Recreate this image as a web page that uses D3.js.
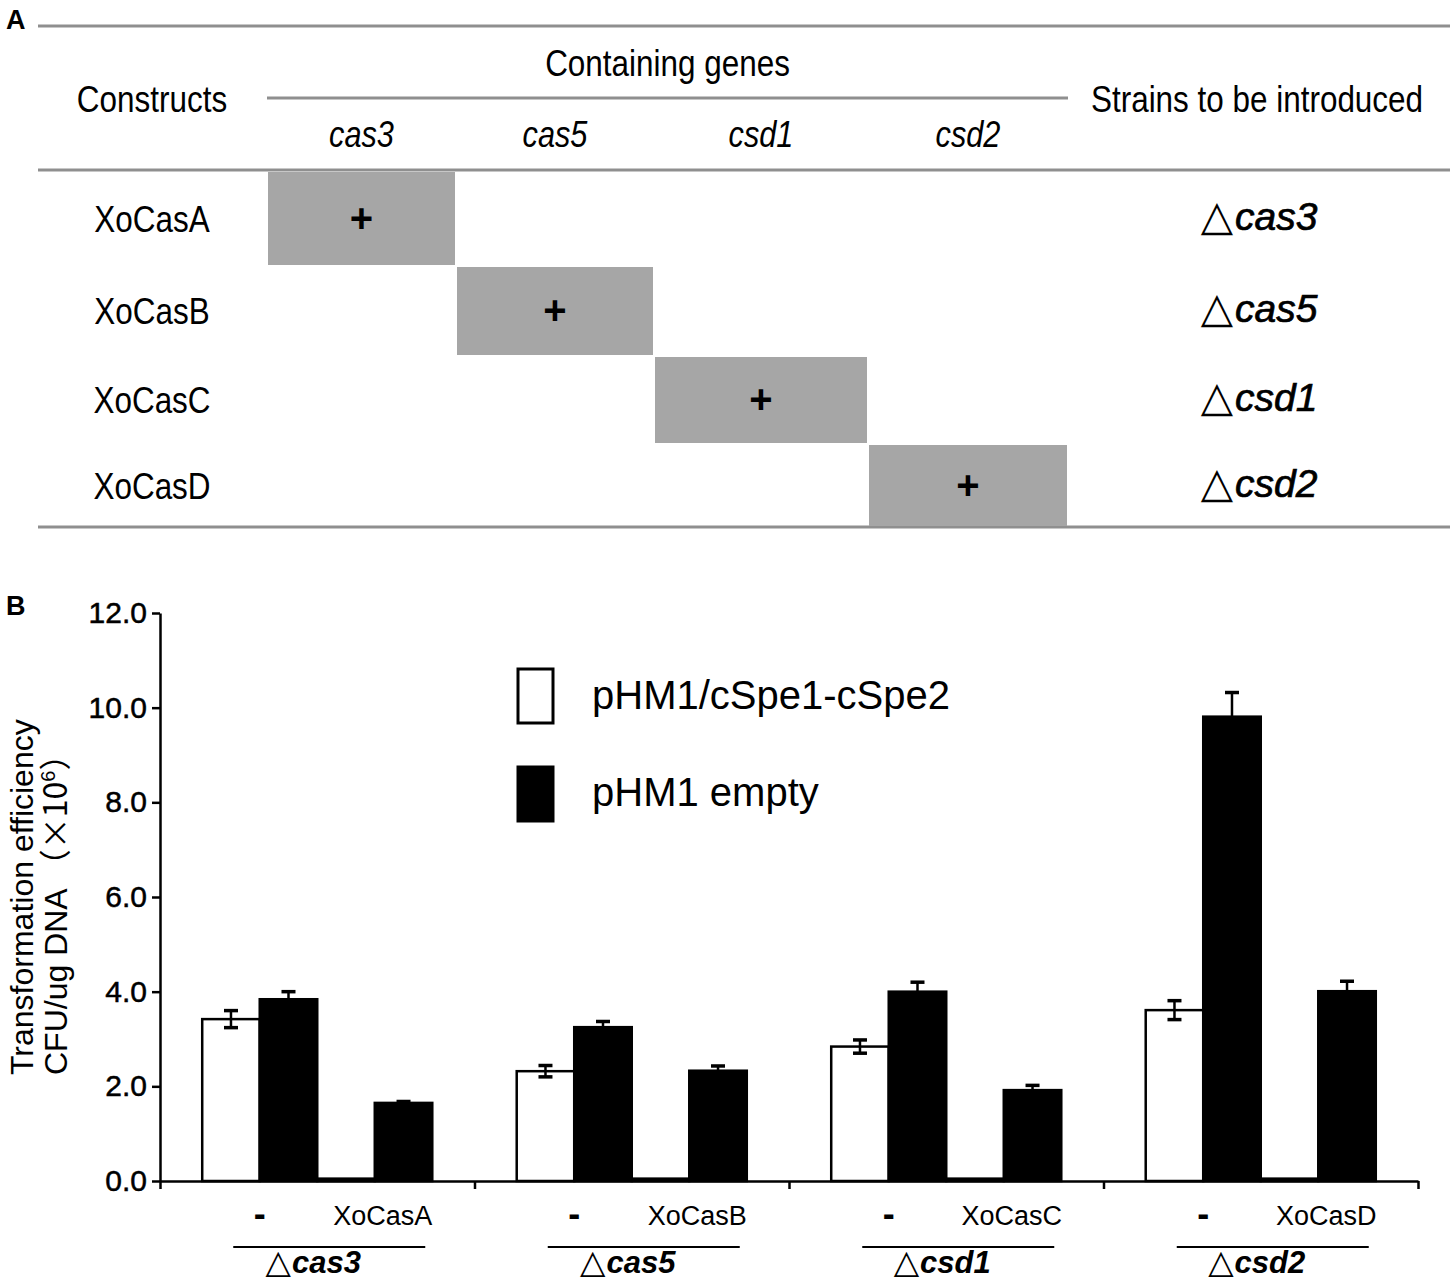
<!DOCTYPE html>
<html>
<head>
<meta charset="utf-8">
<script src="https://cdn.jsdelivr.net/npm/d3@7"></script>
<style>
  body { margin: 0; background: #fff; }
  text { font-family: "Liberation Sans", Arial, sans-serif; fill: #000; }
</style>
</head>
<body>
<div id="chart"></div>
<script>
// ---- panel A: constructs table ----
const constructs = ["XoCasA", "XoCasB", "XoCasC", "XoCasD"];
const genes = ["cas3", "cas5", "csd1", "csd2"];
const hostStrains = ["cas3", "cas5", "csd1", "csd2"];
const containsGene = [
    [1, 0, 0, 0],
    [0, 1, 0, 0],
    [0, 0, 1, 0],
    [0, 0, 0, 1]
];

// ---- panel B: transformation efficiency (x10^6 CFU/ug DNA) ----
const seriesNames = ["pHM1/cSpe1-cSpe2", "pHM1 empty"];
const conditions = ["-", "construct"];
const strainLabels = ["cas3", "cas5", "csd1", "csd2"];
const constructLabels = ["XoCasA", "XoCasB", "XoCasC", "XoCasD"];
const spacerCtrl = [3.42, 2.32, 2.84, 3.61];
const spacerCtrlErr = [0.18, 0.12, 0.14, 0.2];
const spacerComp = [0.05, 0.05, 0.05, 0.05];
const spacerCompErr = [0, 0, 0, 0];
const emptyCtrl = [3.84, 3.25, 4.0, 9.81];
const emptyCtrlErr = [0.16, 0.12, 0.2, 0.51];
const emptyComp = [1.65, 2.33, 1.92, 4.01];
const emptyCompErr = [0.03, 0.1, 0.1, 0.21];
const yTicks = [0, 2, 4, 6, 8, 10, 12];

const W = 1450, H = 1282;
const svg = d3.select("#chart").append("svg")
    .attr("width", W)
    .attr("height", H);

// narrow (condensed) text like the original Arial Narrow look
function narrow(g, x, y, str, size, sx, italic) {
    return g.append("text")
        .attr("transform", `translate(${x},${y}) scale(${sx},1)`)
        .attr("text-anchor", "middle")
        .attr("font-size", size)
        .attr("font-style", italic ? "italic" : "normal")
        .text(str);
}

// =================== Panel A ===================
const A = svg.append("g");
A.append("text").attr("x", 6).attr("y", 29)
    .attr("font-size", 27).attr("font-weight", "bold").text("A");

const col = d3.scaleLinear().domain([0, 1, 2, 3, 4]).range([267, 456, 654, 868, 1068]);
const row = d3.scaleLinear().domain([0, 1, 2, 3, 4]).range([171, 266, 356, 444, 527]);
const lineColor = "#8f8f8f";

// horizontal rules
[26, 170, 527].forEach(yy => {
    A.append("line").attr("x1", 38).attr("x2", W).attr("y1", yy).attr("y2", yy)
        .attr("stroke", lineColor).attr("stroke-width", 3);
});
A.append("line").attr("x1", col(0)).attr("x2", col(4)).attr("y1", 98).attr("y2", 98)
    .attr("stroke", lineColor).attr("stroke-width", 3);

// headers
narrow(A, 152, 112, "Constructs", 37, 0.85);
narrow(A, (col(0) + col(4)) / 2, 76, "Containing genes", 37, 0.85);
narrow(A, 1257, 112, "Strains to be introduced", 37, 0.85);
genes.forEach((g, j) => {
    narrow(A, (col(j) + col(j + 1)) / 2, 147, g, 37, 0.83, true);
});

// rows
constructs.forEach((c, i) => {
    const cy = (row(i) + row(i + 1)) / 2;
    narrow(A, 152, cy + 13, c, 37, 0.85);
    containsGene[i].forEach((v, j) => {
        if (!v) return;
        A.append("rect")
            .attr("x", col(j) + 1).attr("y", row(i) + 1)
            .attr("width", col(j + 1) - col(j) - 2)
            .attr("height", row(i + 1) - row(i) - 2)
            .attr("fill", "#a6a6a6");
        A.append("text")
            .attr("x", (col(j) + col(j + 1)) / 2).attr("y", cy + 13)
            .attr("text-anchor", "middle")
            .attr("font-size", 40).attr("font-weight", "bold")
            .text("+");
    });
    const t = A.append("text").attr("x", 1259).attr("y", cy + 11)
        .attr("text-anchor", "middle").attr("font-size", 39);
    t.append("tspan").attr("font-family", "DejaVu Sans").attr("font-size", 42).text("\u25B3");
    t.append("tspan").attr("dx", 2).attr("font-style", "italic")
        .attr("stroke", "#000").attr("stroke-width", 0.7)
        .text(hostStrains[i]);
});

// =================== Panel B ===================
const B = svg.append("g");
B.append("text").attr("x", 6).attr("y", 615)
    .attr("font-size", 27).attr("font-weight", "bold").text("B");

const plotLeft = 160, plotRight = 1418, plotTop = 613, plotBottom = 1181;

const y = d3.scaleLinear().domain([0, 12]).range([plotBottom, plotTop]);
const x0 = d3.scaleBand().domain(strainLabels).range([plotLeft, plotRight]).padding(0);
const x1 = d3.scaleBand().domain(conditions).range([0, x0.bandwidth()])
    .paddingInner(0).paddingOuter(0.367);
const x2 = d3.scaleBand().domain(seriesNames).range([0, x1.bandwidth()]).padding(0);

const bars = [];
strainLabels.forEach((s, i) => {
    bars.push({ strain: s, cond: "-", series: seriesNames[0], value: spacerCtrl[i], err: spacerCtrlErr[i] });
    bars.push({ strain: s, cond: "-", series: seriesNames[1], value: emptyCtrl[i], err: emptyCtrlErr[i] });
    bars.push({ strain: s, cond: "construct", series: seriesNames[0], value: spacerComp[i], err: spacerCompErr[i] });
    bars.push({ strain: s, cond: "construct", series: seriesNames[1], value: emptyComp[i], err: emptyCompErr[i] });
});
const barX = d => x0(d.strain) + x1(d.cond) + x2(d.series);

// y axis
const yAxis = B.append("g")
    .attr("transform", `translate(${plotLeft},0)`)
    .call(d3.axisLeft(y).tickValues(yTicks).tickFormat(d3.format(".1f"))
        .tickSize(8).tickSizeOuter(0).tickPadding(5));
yAxis.select(".domain").attr("stroke-width", 2.5);
yAxis.selectAll(".tick line").attr("stroke-width", 2.5);
yAxis.selectAll(".tick text")
    .attr("font-size", 30)
    .attr("font-family", "Liberation Sans, Arial, sans-serif")
    .attr("fill", "#000")
    .attr("stroke", "#000").attr("stroke-width", 0.5);

// bars
B.append("g").selectAll("rect")
    .data(bars)
    .join("rect")
    .attr("x", barX)
    .attr("y", d => y(d.value))
    .attr("width", x2.bandwidth())
    .attr("height", d => y(0) - y(d.value))
    .attr("fill", d => d.series === seriesNames[0] ? "#fff" : "#000")
    .attr("stroke", "#000")
    .attr("stroke-width", 2.5);

// error bars
const eb = B.append("g").attr("stroke", "#000").attr("stroke-width", 2.5)
    .selectAll("g")
    .data(bars.filter(d => d.err > 0))
    .join("g")
    .attr("transform", d => `translate(${barX(d) + x2.bandwidth() / 2},0)`);
eb.append("line").attr("y1", d => y(d.value + d.err)).attr("y2", d => y(d.value - d.err));
eb.append("line").attr("x1", -7).attr("x2", 7)
    .attr("y1", d => y(d.value + d.err)).attr("y2", d => y(d.value + d.err))
    .attr("stroke-width", 3.5);
eb.filter(d => d.series === seriesNames[0]).append("line").attr("x1", -7).attr("x2", 7)
    .attr("y1", d => y(d.value - d.err)).attr("y2", d => y(d.value - d.err))
    .attr("stroke-width", 3.5);

// x axis (group boundary ticks)
const xEdge = d3.scaleLinear().domain([0, strainLabels.length]).range([plotLeft, plotRight]);
const xAxis = B.append("g")
    .attr("transform", `translate(0,${plotBottom})`)
    .call(d3.axisBottom(xEdge).ticks(strainLabels.length).tickFormat("").tickSize(8).tickSizeOuter(0));
xAxis.select(".domain").attr("stroke-width", 2.5);
xAxis.selectAll(".tick line").attr("stroke-width", 2.5);

// category labels
strainLabels.forEach((s, i) => {
    const gx = x0(s);
    B.append("text")
        .attr("x", gx + x1("-") + x1.bandwidth() / 2).attr("y", 1226)
        .attr("text-anchor", "middle")
        .attr("font-size", 36).attr("font-weight", "bold")
        .text("-");
    B.append("text")
        .attr("x", gx + x1("construct") + x1.bandwidth() / 2 + 8).attr("y", 1225)
        .attr("text-anchor", "middle")
        .attr("font-size", 27)
        .text(constructLabels[i]);
    const cx = gx + x0.bandwidth() / 2;
    B.append("line")
        .attr("x1", cx + 12 - 96).attr("x2", cx + 12 + 96)
        .attr("y1", 1247).attr("y2", 1247)
        .attr("stroke", "#000").attr("stroke-width", 2);
    const t = B.append("text").attr("x", cx - 4).attr("y", 1273)
        .attr("text-anchor", "middle").attr("font-size", 31);
    t.append("tspan").attr("font-family", "DejaVu Sans").attr("font-size", 33).text("\u25B3");
    t.append("tspan").attr("dx", 1).attr("font-style", "italic").attr("font-weight", "bold").text(s);
});

// y axis title
const yt1 = B.append("text").attr("transform", "translate(33,1075) rotate(-90)")
    .attr("font-size", 32).text("Transformation efficiency");
const yt2 = B.append("text").attr("transform", "translate(67,1075) rotate(-90)")
    .attr("font-size", 32);
yt2.append("tspan").text("CFU/ug DNA ");
yt2.append("tspan").attr("font-family", "Noto Sans CJK SC").text("\uFF08\u00D710");
yt2.append("tspan").attr("font-size", 20).attr("dy", -12).text("6");
yt2.append("tspan").attr("dy", 12).attr("font-family", "Noto Sans CJK SC").text("\uFF09");

// legend
const legend = B.append("g").selectAll("g")
    .data(seriesNames)
    .join("g")
    .attr("transform", (d, i) => `translate(518,${669 + i * 98})`);
legend.append("rect")
    .attr("width", 35).attr("height", 54)
    .attr("fill", (d, i) => i === 0 ? "#fff" : "#000")
    .attr("stroke", "#000").attr("stroke-width", 3);
legend.append("text")
    .attr("x", 74).attr("y", (d, i) => i === 0 ? 40 : 39)
    .attr("font-family", "Lato, sans-serif")
    .attr("font-size", 40)
    .text(d => d);
</script>
</body>
</html>
